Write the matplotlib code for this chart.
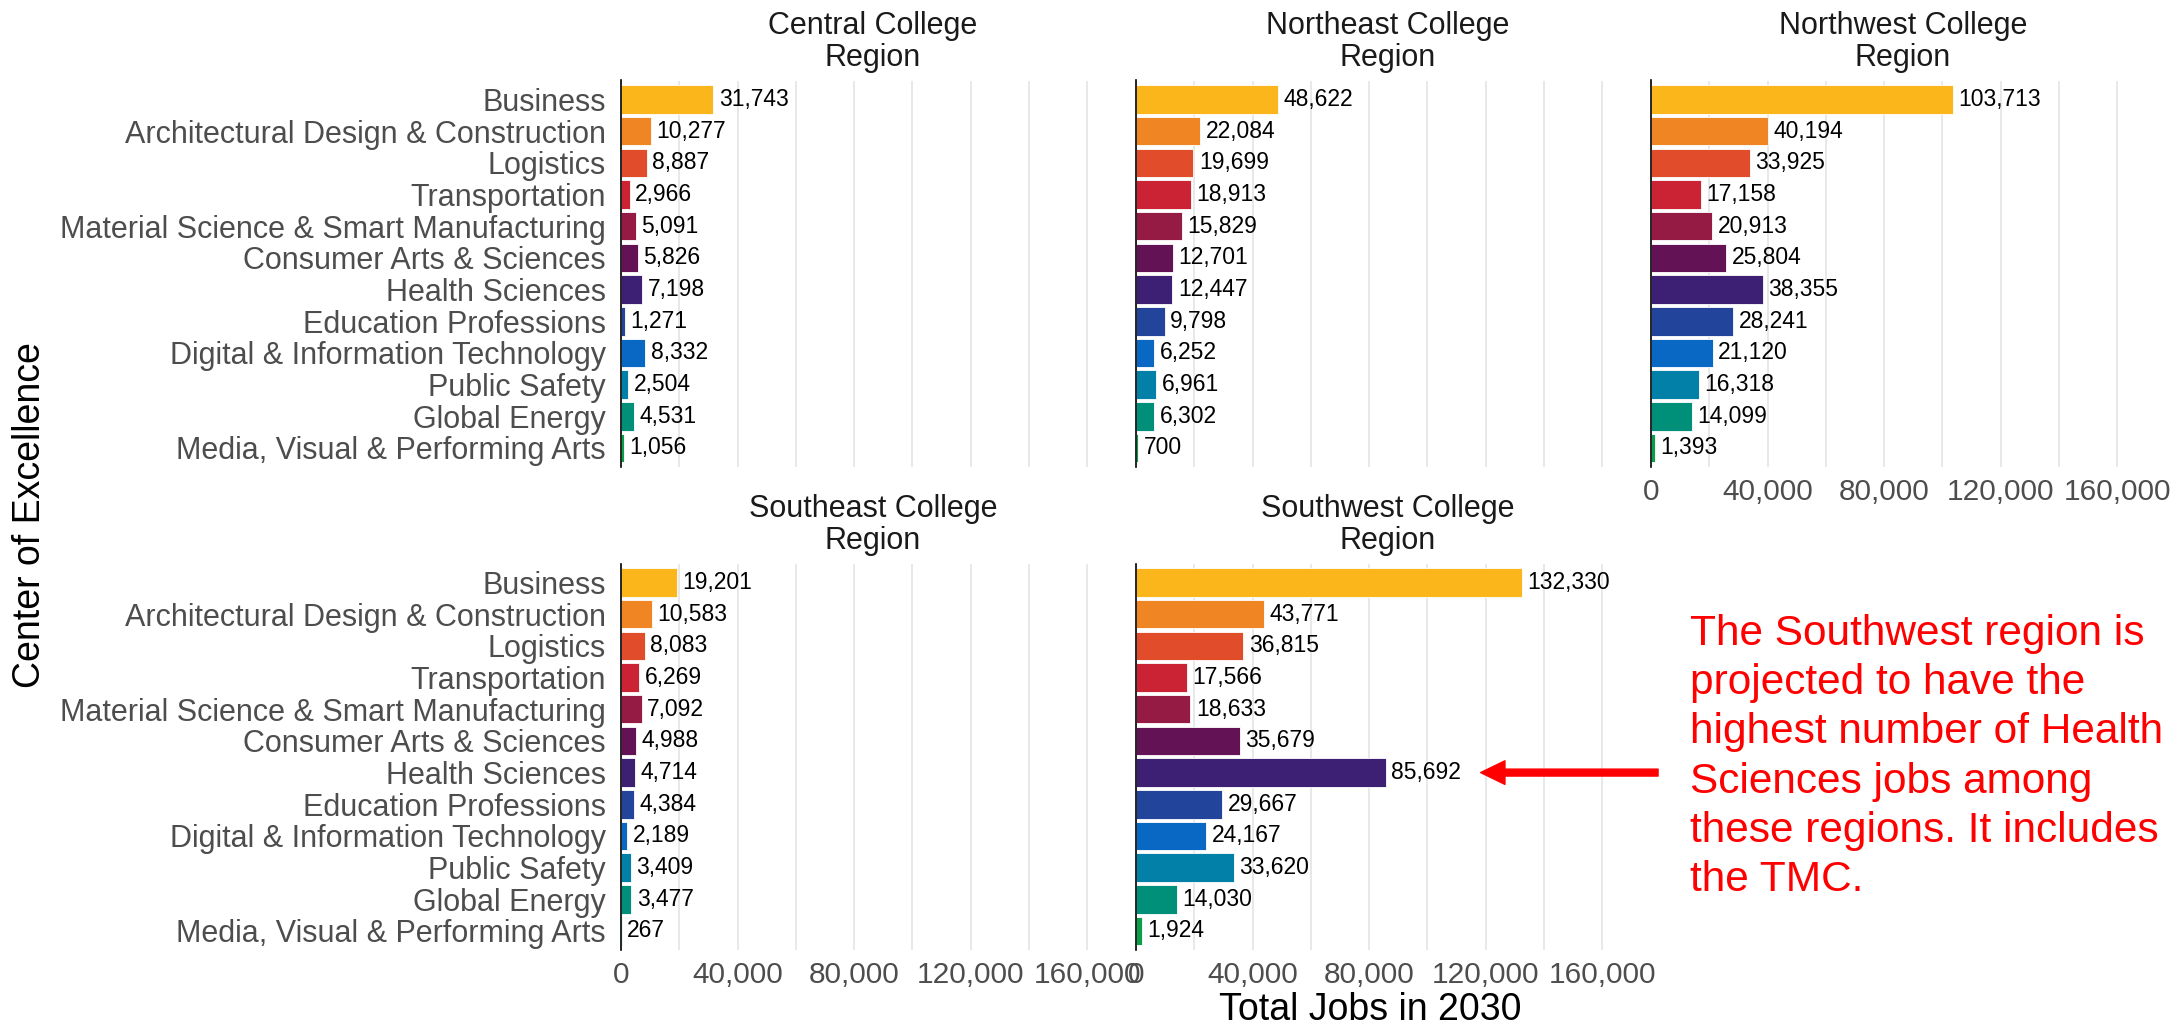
import numpy as np
import matplotlib
matplotlib.use("Agg")
from matplotlib import pyplot as plt
from matplotlib.ticker import MultipleLocator, FuncFormatter

plt.rcParams['font.family'] = ['Liberation Sans', 'DejaVu Sans']

# Jobs projected for 2030 by Center of Excellence, per college region
categories = ["Business", "Architectural Design & Construction", "Logistics",
              "Transportation", "Material Science & Smart Manufacturing",
              "Consumer Arts & Sciences", "Health Sciences", "Education Professions",
              "Digital & Information Technology", "Public Safety", "Global Energy",
              "Media, Visual & Performing Arts"]

central = [31743, 10277, 8887, 2966, 5091, 5826, 7198, 1271, 8332, 2504, 4531, 1056]
northeast = [48622, 22084, 19699, 18913, 15829, 12701, 12447, 9798, 6252, 6961, 6302, 700]
northwest = [103713, 40194, 33925, 17158, 20913, 25804, 38355, 28241, 21120, 16318, 14099, 1393]
southeast = [19201, 10583, 8083, 6269, 7092, 4988, 4714, 4384, 2189, 3409, 3477, 267]
southwest = [132330, 43771, 36815, 17566, 18633, 35679, 85692, 29667, 24167, 33620, 14030, 1924]

region_names = ["Central College\nRegion", "Northeast College\nRegion",
                "Northwest College\nRegion", "Southeast College\nRegion",
                "Southwest College\nRegion"]

colors = ["#FBB61B", "#EF8523", "#E14D2A", "#CC2334", "#951B45", "#621255",
          "#3D1F74", "#22449A", "#0868C4", "#0380A8", "#00907A", "#0B9E4A"]

W, H = 2177, 1027
fig = plt.figure(figsize=(W / 100, H / 100), dpi=100)

# panel layout in pixels: (left, top), shared width/height
pw, ph = 504, 386.5
lefts = [621, 1136, 1651]
tops = [80.5, 563.5]
panels = [(0, 0), (0, 1), (0, 2), (1, 0), (1, 1)]
series = [central, northeast, northwest, southeast, southwest]

y = np.arange(len(categories))
axes = []
for (r, c), vals, name in zip(panels, series, region_names):
    ax = fig.add_axes([lefts[c] / W, 1 - (tops[r] + ph) / H, pw / W, ph / H])
    ax.barh(y, vals, height=0.9, color=colors, edgecolor="white", linewidth=0.6, zorder=3)
    ax.set_xlim(0, 173000)
    ax.set_ylim(11.6, -0.6)

    ax.xaxis.set_major_locator(MultipleLocator(40000))
    ax.xaxis.set_minor_locator(MultipleLocator(20000))
    ax.xaxis.set_major_formatter(FuncFormatter(lambda v, p: f"{int(v):,}"))
    ax.grid(axis="x", which="both", color="#E6E6E6", linewidth=1.3, zorder=0)
    ax.set_axisbelow(True)

    for s in ["top", "right", "bottom"]:
        ax.spines[s].set_visible(False)
    ax.spines["left"].set_color("black")
    ax.spines["left"].set_linewidth(1.2)
    ax.spines["left"].set_zorder(4)

    ax.tick_params(axis="both", which="both", length=0)
    ax.tick_params(axis="x", labelsize=21.5, labelcolor="#4D4D4D", pad=8)
    ax.tick_params(axis="y", labelsize=22, labelcolor="#4D4D4D", pad=11)

    ax.set_yticks(y)
    if c == 0:
        ax.set_yticklabels(categories)
    else:
        ax.set_yticklabels([])
    if r == 0 and c != 2:
        ax.set_xticklabels([])

    for i, v in enumerate(vals):
        ax.annotate(f"{v:,}", (v, i), xytext=(4, 0), textcoords="offset points",
                    va="center", ha="left", fontsize=16.5, color="black", zorder=5)

    ax.text(0.5, 1 + 38.5 / ph, name, transform=ax.transAxes, ha="center",
            va="center", fontsize=22, linespacing=1.05, color="#1A1A1A")
    axes.append(ax)

# arrow pointing at the Southwest Health Sciences bar
sw = axes[4]
sw.annotate("", xy=(118300, 6), xytext=(179200, 6), xycoords="data",
            arrowprops=dict(arrowstyle="simple,head_length=1.75,head_width=1.7,tail_width=0.5",
                            mutation_scale=10, color="#FF0000", shrinkA=0, shrinkB=0),
            annotation_clip=False)

fig.text(1690 / W, 1 - 757 / H,
         "The Southwest region is\nprojected to have the\nhighest number of Health\n"
         "Sciences jobs among\nthese regions. It includes\nthe TMC.",
         ha="left", va="center", fontsize=30.5, color="#FF0000", linespacing=1.3)

fig.text(1370 / W, 1 - 1010 / H, "Total Jobs in 2030", ha="center", va="center",
         fontsize=27, color="black")
fig.text(30 / W, 1 - 515 / H, "Center of Excellence", ha="center", va="center",
         rotation=90, fontsize=27, color="black")

fig.savefig("out.png", dpi=100)
